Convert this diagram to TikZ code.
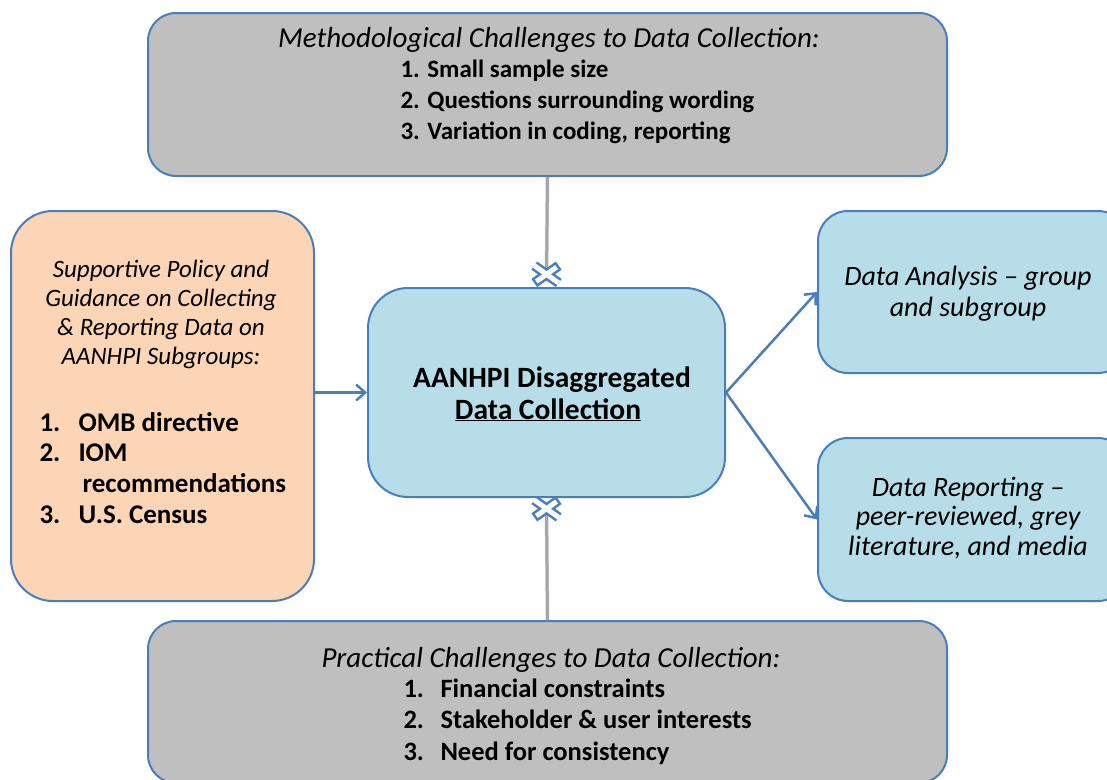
\documentclass[tikz,border=0pt]{standalone}
\usepackage{fontspec}
\setmainfont{Carlito}
\usetikzlibrary{arrows.meta}
\usetikzlibrary{positioning}
\definecolor{frameblue}{HTML}{4A7EBB}
\definecolor{greybox}{HTML}{BFBFBF}
\definecolor{peachbox}{HTML}{FBD5B5}
\definecolor{bluebox}{HTML}{B7DEE8}
\definecolor{greyline}{HTML}{A6A6A6}
\newcommand*{\headfont}{\fontsize{29}{31}\selectfont\itshape}
\newcommand*{\sidefont}{\fontsize{25}{29}\selectfont\itshape}
\newcommand*{\outfont }{\fontsize{28}{31}\selectfont\itshape}
\newcommand*{\listfont}{\fontsize{25}{31}\selectfont\bfseries}
\newcommand*{\sidelist}{\fontsize{27}{31}\selectfont\bfseries}
\newcommand*{\footlist}{\fontsize{26.5}{31}\selectfont\bfseries}
\newcommand*{\keyfont }{\fontsize{29.5}{32}\selectfont\bfseries}
\newcommand*{\numbox}[1]{\makebox[39pt][l]{#1}}

\tikzset{
    box/.style    = {draw=frameblue, line width=2pt, rounded corners=#1, inner sep=0pt, anchor=north west},
    box/.default  = 28pt,
    flow/.style   = {draw=frameblue, line width=2.5pt, -{Straight Barb[length=9pt,width=16pt]}},
    strain/.style = {draw=greyline, line width=3pt},
    shade/.style  = {draw=black!12, line width=4pt},
    xmark/.style  = {minimum width=24pt, minimum height=17pt, inner sep=0pt},
    xout/.style   = {draw=frameblue, line width=10pt},
    xin/.style    = {draw=white, line width=5pt, shorten >=2.5pt, shorten <=2.5pt},
}

\begin{document}
\begin{tikzpicture}[x=1pt, y=-1pt]
        \path [use as bounding box, clip] (0,0) rectangle (1107,779);
        \node [box, fill=greybox, minimum width=799pt, minimum height=163pt] (method) at (147, 12) {};
        \node [box=42pt, fill=peachbox, minimum width=303pt, minimum height=390pt] (policy) at ( 10,210) {};
        \node [box=40pt, fill=bluebox, minimum width=357pt, minimum height=209pt] (centre) at (367,287) {};
        \node [box=30pt, fill=bluebox, minimum width=310pt, minimum height=162pt] (analysis) at (817,210) {};
        \node [box=30pt, fill=bluebox, minimum width=310pt, minimum height=163pt] (report) at (817,437) {};
        \node [box, fill=greybox, minimum width=799pt, minimum height=162pt] (practical) at (147,620) {};

        \node [xmark, above=4pt of centre.north] (topx) {};
        \node [xmark, below=2pt of centre.south] (botx) {};

        \draw [shade, xshift=2pt] (method.south) -- (topx.center);
        \draw [shade, xshift=2pt] (practical.north) -- (botx.center);
        \draw [strain] (method.south) -- (topx.center);
        \draw [strain] (practical.north) -- (botx.center);
        \draw [xout] (topx.north west) -- (topx.south east) (topx.north east) -- (topx.south west);
        \draw [xin ] (topx.north west) -- (topx.south east) (topx.north east) -- (topx.south west);
        \draw [xout] (botx.north west) -- (botx.south east) (botx.north east) -- (botx.south west);
        \draw [xin ] (botx.north west) -- (botx.south east) (botx.north east) -- (botx.south west);

        \draw [flow] (centre.west -| policy.east) -- (centre.west);
        \draw [flow] (centre.east) -- (analysis.west);
        \draw [flow] (centre.east) -- (report.west);

        % methodological challenges
        \node [anchor=base, font=\headfont] (mhead) at (549, 47) {Methodological Challenges to Data Collection:};
        \node [anchor=base west, font=\listfont] (mone) at (397, 77) {1. Small sample size};
        \node [anchor=base west, font=\listfont] (mtwo) at (397,108) {2. Questions surrounding wording};
        \node [anchor=base west, font=\listfont] (mthree) at (397,139) {3. Variation in coding, reporting};

        % policy and guidance
        \node [anchor=base, font=\sidefont] (pone) at (161,277) {Supportive Policy and};
        \node [anchor=base, font=\sidefont] (ptwo) at (161,306) {Guidance on Collecting};
        \node [anchor=base, font=\sidefont] (pthree) at (161,335) {\& Reporting Data on};
        \node [anchor=base, font=\sidefont] (pfour) at (161,364) {AANHPI Subgroups:};
        \node [anchor=base west, font=\sidelist] (omb) at (36,431) {\numbox{1.}OMB directive};
        \node [anchor=base west, font=\sidelist] (iom) at (36,461) {\numbox{2.}IOM};
        \node [anchor=base west, font=\sidelist] (recs) at (79,492) {recommendations};
        \node [anchor=base west, font=\sidelist] (census) at (36,523) {\numbox{3.}U.S. Census};

        % centre
        \node [anchor=base, font=\keyfont] (cone) at (552,387) {AANHPI Disaggregated};
        \node [anchor=base, font=\keyfont] (ctwo) at (548,419) {\underline{Data Collection}};

        % outcomes
        \node [anchor=base, font=\outfont] (aone) at (968,285) {Data Analysis -- group};
        \node [anchor=base, font=\outfont] (atwo) at (968,316) {and subgroup};
        \node [anchor=base, font=\outfont] (rone) at (968,496) {Data Reporting --};
        \node [anchor=base, font=\outfont] (rtwo) at (968,525) {peer-reviewed, grey};
        \node [anchor=base, font=\outfont] (rthree) at (968,555) {literature, and media};

        % practical challenges
        \node [anchor=base, font=\headfont] (phead) at (551,667) {Practical Challenges to Data Collection:};
        \node [anchor=base west, font=\footlist] (fin) at (400,697) {\makebox[37pt][l]{1.}Financial constraints};
        \node [anchor=base west, font=\footlist] (stake) at (400,728) {\makebox[37pt][l]{2.}Stakeholder \& user interests};
        \node [anchor=base west, font=\footlist] (need) at (400,760) {\makebox[37pt][l]{3.}Need for consistency};
    \end{tikzpicture}
\end{document}
